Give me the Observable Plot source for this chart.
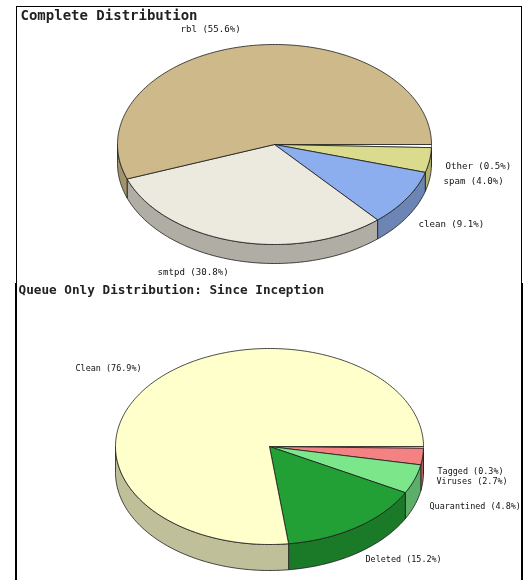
<!DOCTYPE html>
<html><head><meta charset="utf-8">
<script src="https://cdn.jsdelivr.net/npm/d3@7"></script>
<script src="https://cdn.jsdelivr.net/npm/@observablehq/plot@0.6"></script>
<style>
html,body{margin:0;padding:0;background:#fff;overflow:hidden}
.panel{position:absolute;box-sizing:border-box;border-style:solid;border-color:#000}
svg{position:absolute;left:0;display:block;max-width:none!important;filter:blur(0.3px)}
</style></head><body>
<script>
// Top chart
const completeNames  = ["Other","spam","clean","smtpd","rbl"];
const completeValues = [0.5,4.0,9.1,30.8,55.6];
const completeTop    = ["#ffffff","#dadb8c","#8daeee","#ece9de","#cdb98a"];
const completeSide   = ["#333333","#b3b36e","#6d85b5","#b0ada5","#a3936d"];
// Bottom chart
const queueNames  = ["Tagged","Viruses","Quarantined","Deleted","Clean"];
const queueValues = [0.3,2.7,4.8,15.2,76.9];
const queueTop    = ["#d8f0c0","#f48282","#7ce68a","#22a035","#ffffcc"];
const queueSide   = ["#a8c090","#b86060","#5cae68","#1a7a28","#bfbf9a"];

// Layout (pixels within each panel)
const topLayout = {title:"Complete Distribution",height:282,top:0,cx:274,cy:144,rx:157,ry:100,depth:19,titleX:20,titleY:10,titleSize:14,labelSize:9.1,
  labelLeft:[445,443,418,157,180], labelY:[166,181,224,272,29]};
const botLayout = {title:"Queue Only Distribution: Since Inception",height:298,top:282,cx:269,cy:164,rx:154,ry:98,depth:26,titleX:18,titleY:2,titleSize:12.7,labelSize:8.45,
  labelLeft:[437,436,429,365,75], labelY:[189,199,224,277,86]};

function arc(a0,a1){ // unit-circle points from a0 to a1, one every degree
  const n=Math.max(2,Math.ceil((a1-a0)*180/Math.PI));
  return d3.range(n+1).map(i=>{const a=a0+(a1-a0)*i/n;return [Math.cos(a),Math.sin(a)];});
}
function pie(names,values,topColors,sideColors,L){
  const total=d3.sum(values), d=L.depth/L.ry, marks=[];
  let acc=0;
  const slices=values.map((v,i)=>{const a0=acc/total*2*Math.PI;acc+=v;const a1=acc/total*2*Math.PI;
    return {i,a0,a1,name:names[i],value:v};});
  const poly=(pts,fill,stroke,sw)=>Plot.line([...pts,pts[0]],{x:p=>p[0],y:p=>p[1],fill,stroke,strokeWidth:sw,curve:"linear",strokeLinejoin:"round"});
  // walls, visible on the front half only
  for(const s of slices){
    const a0=s.a0,a1=Math.min(s.a1,Math.PI);
    if(a0>=Math.PI) continue;
    const rim=arc(a0,a1);
    const lower=rim.slice().reverse().map(p=>[p[0],p[1]+d]);
    marks.push(poly([...rim,...lower],sideColors[s.i],"#1c1c1c",0.8));
  }
  // top faces
  for(const s of slices){
    marks.push(poly([[0,0],...arc(s.a0,s.a1)],topColors[s.i],s.value<1?"#666":"#1c1c1c",0.8));
  }
  const labels=names.map((n,i)=>({text:`${n} (${values[i].toFixed(1)}%)`,x:(L.labelLeft[i]-L.cx)/L.rx,y:(L.labelY[i]-L.cy)/L.ry}));
  marks.push(Plot.text(labels,{x:"x",y:"y",text:"text",textAnchor:"start",lineAnchor:"middle",fontFamily:"'DejaVu Sans Mono',monospace",fontSize:L.labelSize,fill:"#111"}));
  marks.push(Plot.text([L.title],{frameAnchor:"top-left",dx:L.titleX,dy:L.titleY,text:d=>d,fontFamily:"'DejaVu Sans Mono',monospace",fontSize:L.titleSize,fontWeight:700,fill:"#222",lineAnchor:"top",textAnchor:"start"}));
  return Plot.plot({width:527,height:L.height,margin:0,style:{background:"transparent",overflow:"visible"},
    x:{domain:[-1,1],range:[L.cx-L.rx,L.cx+L.rx],axis:null},
    y:{domain:[-1,1],range:[L.cy-L.ry,L.cy+L.ry],axis:null},
    marks});
}
function frame(css){const el=document.createElement("div");el.className="panel";Object.assign(el.style,css);document.body.appendChild(el);}
frame({left:"16px",top:"6px",width:"506px",height:"277px",borderWidth:"1px 1px 0 1px"});
frame({left:"15px",top:"283px",width:"508px",height:"297px",borderWidth:"0 2px 0 2px"});
for(const [c,L] of [[pie(completeNames,completeValues,completeTop,completeSide,topLayout),topLayout],[pie(queueNames,queueValues,queueTop,queueSide,botLayout),botLayout]]){
  c.style.top=L.top+"px"; document.body.appendChild(c);
}
</script>
</body></html>
